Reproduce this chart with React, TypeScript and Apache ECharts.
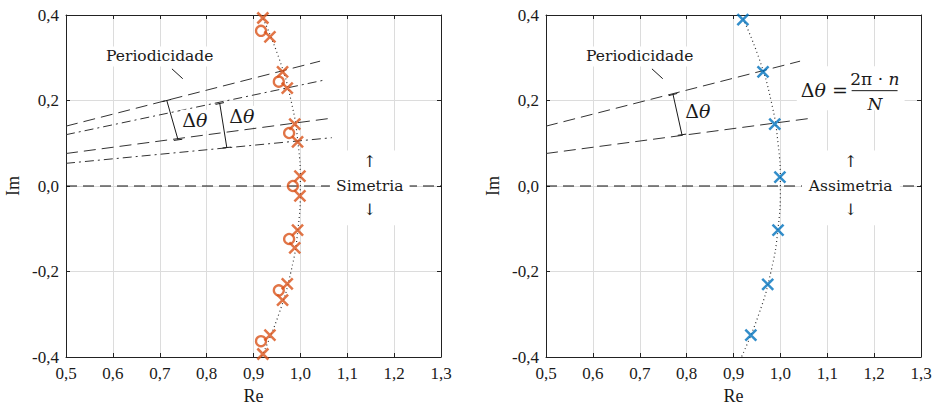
import React, { useEffect, useRef } from "react";
import * as echarts from "echarts";

// ---------- data ----------
const xMin = 0.5, xMax = 1.3, xStep = 0.1;
const yMin = -0.4, yMax = 0.4, yStep = 0.2;

// left panel (symmetric): zeros (x) and poles (o)
const leftCrossRe = [0.92, 0.935, 0.962, 0.972, 0.988, 0.994, 0.999, 0.999, 0.994, 0.988, 0.972, 0.962, 0.935, 0.92];
const leftCrossIm = [0.393, 0.349, 0.267, 0.229, 0.145, 0.103, 0.023, -0.023, -0.103, -0.145, -0.229, -0.267, -0.349, -0.393];
const leftCircleRe = [0.916, 0.954, 0.976, 0.984, 0.976, 0.954, 0.916];
const leftCircleIm = [0.363, 0.244, 0.124, 0.0, -0.124, -0.244, -0.363];

// right panel (asymmetric)
const rightCrossRe = [0.92, 0.963, 0.988, 0.999, 0.995, 0.973, 0.937];
const rightCrossIm = [0.389, 0.267, 0.145, 0.021, -0.103, -0.23, -0.349];

// dotted reference curve
const curveRe = [0.917, 0.954, 0.98, 0.995, 1.0, 0.995, 0.98, 0.954, 0.917];
const curveIm = [0.4, 0.3, 0.2, 0.1, 0.0, -0.1, -0.2, -0.3, -0.4];

// "Periodicidade" rays: Im at Re=0.5, end Re, end Im
const leftRayStartIm = [0.14, 0.12, 0.076, 0.053];
const leftRayEndRe = [1.042, 1.052, 1.069, 1.067];
const leftRayEndIm = [0.292, 0.248, 0.159, 0.113];
const leftRayDash = ["dash", "dashdot", "dash", "dashdot"];
const rightRayStartIm = [0.14, 0.076];
const rightRayEndRe = [1.042, 1.069];
const rightRayEndIm = [0.292, 0.159];

// Δθ brackets: [topRe, topIm, bottomRe, bottomIm]
const leftBrackets = [
  [0.715, 0.2, 0.739, 0.108],
  [0.828, 0.193, 0.843, 0.09],
];
const rightBrackets = [[0.771, 0.214, 0.79, 0.12]];

const ORANGE = "#D95319";
const BLUE = "#0072BD";
const INK = "#1a1a1a";
const SERIF = "'DejaVu Serif', serif";
const TICKFONT = "'Liberation Serif', serif";
const CROSS = "path://M0,0L10,10M10,0L0,10";

const fmt = (v: number) => v.toFixed(1).replace(".", ",");

function seg(g: number, pts: number[][], color: string, type: any, width = 1, z = 3) {
  return {
    type: "line",
    xAxisIndex: g,
    yAxisIndex: g,
    data: pts,
    symbol: "none",
    silent: true,
    z,
    lineStyle: { color, width, type },
  };
}

function dashOf(k: string) {
  return k === "dash" ? [12, 6] : [9, 4, 2, 4];
}

function bracketSeries(g: number, b: number[]) {
  const [x1, y1, x2, y2] = b;
  const out: any[] = [seg(g, [[x1, y1], [x2, y2]], INK, "solid", 1, 4)];
  const cap = (x: number, y: number) => {
    const s = y / x; // along the ray through origin
    const d = 0.009;
    return seg(g, [[x - d, y - d * s], [x + d, y + d * s]], INK, "solid", 1, 4);
  };
  out.push(cap(x1, y1), cap(x2, y2));
  return out;
}

function buildOption() {
  const grids = [
    { left: 66, top: 15, width: 375, height: 348 },
    { left: 546, top: 15, width: 375, height: 348 },
  ];
  const xAxes: any[] = [];
  const yAxes: any[] = [];
  for (let g = 0; g < 2; g++) {
    xAxes.push({
      type: "value", gridIndex: g, min: xMin, max: xMax, interval: xStep, position: "bottom",
      name: "Re", nameLocation: "middle", nameGap: 30,
      nameTextStyle: { fontFamily: TICKFONT, fontSize: 18, color: INK },
      axisLine: { onZero: false, lineStyle: { color: "#222", width: 1 } },
      axisTick: { inside: true, length: 4, lineStyle: { color: "#222" } },
      splitLine: { show: true, lineStyle: { color: "#dcdcdc", width: 1 } },
      axisLabel: { formatter: fmt, fontFamily: TICKFONT, fontSize: 17, color: INK, margin: 8 },
    });
    yAxes.push({
      type: "value", gridIndex: g, min: yMin, max: yMax, interval: yStep, position: "left",
      name: "Im", nameLocation: "middle", nameGap: 44, nameRotate: 90,
      nameTextStyle: { fontFamily: TICKFONT, fontSize: 18, color: INK },
      axisLine: { onZero: false, lineStyle: { color: "#222", width: 1 } },
      axisTick: { inside: true, length: 4, lineStyle: { color: "#222" } },
      splitLine: { show: true, lineStyle: { color: "#dcdcdc", width: 1 } },
      axisLabel: { formatter: fmt, fontFamily: TICKFONT, fontSize: 17, color: INK, margin: 7 },
    });
  }
  for (let g = 0; g < 2; g++) {
    xAxes.push({
      type: "value", gridIndex: g, min: xMin, max: xMax, interval: xStep, position: "top",
      axisLine: { onZero: false, lineStyle: { color: "#222", width: 1 } },
      axisTick: { inside: true, length: 4, lineStyle: { color: "#222" } },
      splitLine: { show: false }, axisLabel: { show: false },
    });
    yAxes.push({
      type: "value", gridIndex: g, min: yMin, max: yMax, interval: yStep, position: "right",
      axisLine: { onZero: false, lineStyle: { color: "#222", width: 1 } },
      axisTick: { inside: true, length: 4, lineStyle: { color: "#222" } },
      splitLine: { show: false }, axisLabel: { show: false },
    });
  }

  const series: any[] = [];
  for (let g = 0; g < 2; g++) {
    series.push(seg(g, [[xMin, 0], [xMax, 0]], "#111", [11, 6], 1.2, 3));
    series.push({
      type: "line", xAxisIndex: g, yAxisIndex: g, symbol: "none", smooth: true, silent: true, z: 3,
      data: curveRe.map((r, i) => [r, curveIm[i]]),
      lineStyle: { color: "#333", width: 1.2, type: [1, 3] },
    });
    series.push(seg(g, [[0.726, 0.274], [0.749, 0.251]], INK, "solid", 1, 4));
  }
  leftRayStartIm.forEach((s, i) => {
    series.push(seg(0, [[xMin, s], [leftRayEndRe[i], leftRayEndIm[i]]], "#333", dashOf(leftRayDash[i]), 1, 3));
  });
  rightRayStartIm.forEach((s, i) => {
    series.push(seg(1, [[xMin, s], [rightRayEndRe[i], rightRayEndIm[i]]], "#333", dashOf("dash"), 1, 3));
  });
  leftBrackets.forEach((b) => series.push(...bracketSeries(0, b)));
  rightBrackets.forEach((b) => series.push(...bracketSeries(1, b)));

  series.push({
    type: "scatter", xAxisIndex: 0, yAxisIndex: 0, symbol: "circle", symbolSize: 10, z: 5, silent: true,
    data: leftCircleRe.map((r, i) => [r, leftCircleIm[i]]),
    itemStyle: { color: "none", borderColor: ORANGE, borderWidth: 2.3 },
  });
  series.push({
    type: "scatter", xAxisIndex: 0, yAxisIndex: 0, symbol: CROSS, symbolSize: 11, z: 6, silent: true,
    data: leftCrossRe.map((r, i) => [r, leftCrossIm[i]]),
    itemStyle: { color: "none", borderColor: ORANGE, borderWidth: 2.5 },
  });
  series.push({
    type: "scatter", xAxisIndex: 1, yAxisIndex: 1, symbol: CROSS, symbolSize: 11, z: 6, silent: true,
    data: rightCrossRe.map((r, i) => [r, rightCrossIm[i]]),
    itemStyle: { color: "none", borderColor: BLUE, borderWidth: 2.5 },
  });

  return { animation: false, backgroundColor: "#fff", grid: grids, xAxis: xAxes, yAxis: yAxes, series };
}

export default function App() {
  const ref = useRef<HTMLDivElement>(null);
  useEffect(() => {
    if (!ref.current) return;
    const chart = echarts.init(ref.current, undefined, { renderer: "svg" });
    chart.setOption(buildOption());

    const P = (g: number, x: number, y: number) => chart.convertToPixel({ gridIndex: g } as any, [x, y]) as number[];
    const text = (p: number[], t: string, size: number, extra: any = {}) => ({
      type: "text", x: p[0], y: p[1], z: 61,
      style: {
        text: t, fontFamily: SERIF, fontSize: size, fill: INK, align: "center", verticalAlign: "middle",
        ...extra,
      },
    });
    const box = (g: number, x1: number, y1: number, x2: number, y2: number) => {
      const a = P(g, x1, y1), b = P(g, x2, y2);
      return { type: "rect", z: 50, shape: { x: a[0], y: a[1], width: b[0] - a[0], height: b[1] - a[1] }, style: { fill: "#fff" } };
    };
    const richTheta = {
      n: { fontFamily: SERIF, fontSize: 19, fill: INK },
      i: { fontFamily: SERIF, fontSize: 19, fill: INK, fontStyle: "italic" },
    };
    const graphics: any[] = [];
    for (let g = 0; g < 2; g++) {
      graphics.push(text(P(g, 0.7, 0.303), "Periodicidade", 15.5, { backgroundColor: "#fff", padding: [2, 3] }));
    }
    // Δθ labels
    graphics.push(text(P(0, 0.775, 0.154), "{n|Δ}{i|θ}", 19, { rich: richTheta, backgroundColor: "#fff", padding: [1, 2] }));
    graphics.push(text(P(0, 0.875, 0.163), "{n|Δ}{i|θ}", 19, { rich: richTheta, backgroundColor: "#fff", padding: [1, 2] }));
    graphics.push(text(P(1, 0.824, 0.175), "{n|Δ}{i|θ}", 19, { rich: richTheta, backgroundColor: "#fff", padding: [1, 2] }));

    // symmetry boxes
    graphics.push(box(0, 1.063, 0.083, 1.233, -0.092));
    graphics.push(text(P(0, 1.148, 0), "Simetria", 15.5));
    graphics.push(text(P(0, 1.148, 0.058), "↑", 16));
    graphics.push(text(P(0, 1.148, -0.056), "↓", 16));
    graphics.push(box(1, 1.046, 0.083, 1.255, -0.092));
    graphics.push(text(P(1, 1.15, 0), "Assimetria", 15.5));
    graphics.push(text(P(1, 1.15, 0.058), "↑", 16));
    graphics.push(text(P(1, 1.15, -0.056), "↓", 16));

    // formula
    graphics.push(box(1, 1.035, 0.28, 1.265, 0.177));
    graphics.push(text(P(1, 1.0437, 0.225), "{n|Δ}{i|θ}{n| =}", 19, { rich: richTheta, align: "left" }));
    graphics.push(text(P(1, 1.2015, 0.25), "{n|2π · }{i|n}", 17, {
      rich: { n: { fontFamily: SERIF, fontSize: 17, fill: INK }, i: { fontFamily: SERIF, fontSize: 17, fill: INK, fontStyle: "italic" } },
    }));
    graphics.push(text(P(1, 1.2015, 0.191), "{i|N}", 17, {
      rich: { i: { fontFamily: SERIF, fontSize: 17, fill: INK, fontStyle: "italic" } },
    }));
    const l1 = P(1, 1.152, 0.223), l2 = P(1, 1.25, 0.223);
    graphics.push({ type: "line", z: 61, shape: { x1: l1[0], y1: l1[1], x2: l2[0], y2: l2[1] }, style: { stroke: INK, lineWidth: 1 } });

    chart.setOption({ graphic: graphics });
    return () => chart.dispose();
  }, []);
  return <div ref={ref} style={{ position: "fixed", left: 0, top: 0, width: 939, height: 410, background: "#fff" }} />;
}
